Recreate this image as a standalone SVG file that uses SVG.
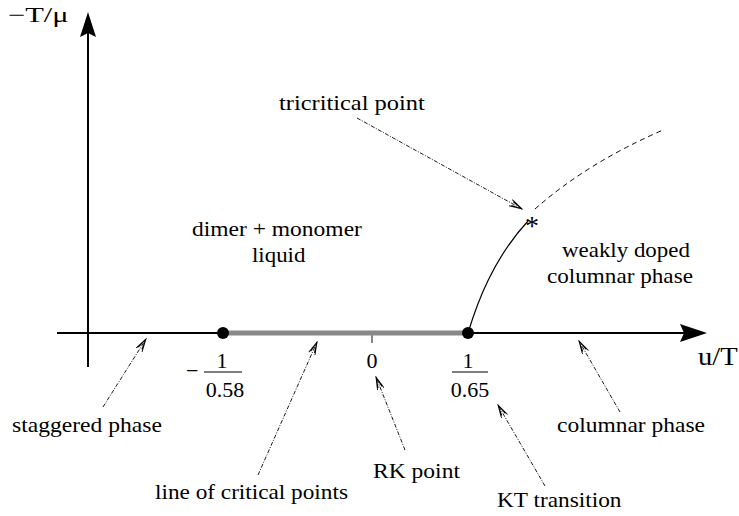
<svg xmlns="http://www.w3.org/2000/svg" width="739" height="516" viewBox="0 0 739 516">
<style>
.ax{stroke:#000;stroke-width:2;fill:none}
.ptr{stroke:#000;stroke-width:0.9;fill:none;stroke-dasharray:4 1.5 1 1.5;marker-end:url(#open)}
</style>
<defs>
<marker id="open" viewBox="0 0 14 8" refX="13" refY="4" markerWidth="14" markerHeight="8" markerUnits="userSpaceOnUse" orient="auto">
<path d="M0,0.5 L13,4 L0,7.5 M2,2 L13,4 L2,6" fill="none" stroke="#000" stroke-width="0.9"/>
</marker>
</defs>
<rect width="739" height="516" fill="#fff"/>
<g id="axes" font-family="Liberation Serif, serif">
<line class="ax" x1="88" y1="367" x2="88" y2="30"/>
<path d="M88,12 L96,37 L88,33 L80,37 Z" fill="#000"/>
<line class="ax" x1="57" y1="333" x2="690" y2="333"/>
<path d="M707,333 L680,342 L684,333 L680,324 Z" fill="#000"/>
<text font-size="21" transform="translate(8,22) scale(1.45,1)">−T/μ</text>
<text font-size="26" transform="translate(698,365) scale(1.1,1)">u/T</text>
</g>
<g id="critical-line">
<line x1="223" y1="333" x2="468" y2="333" stroke="#888" stroke-width="5"/>
<line x1="372" y1="333" x2="372" y2="343" stroke="#888" stroke-width="2"/>
</g>
<g id="point-left" font-family="Liberation Serif, serif" font-size="22">
<circle cx="223" cy="333" r="6" fill="#000"/>
<text x="186" y="378">−</text>
<text x="222" y="368" text-anchor="middle">1</text>
<line x1="204" y1="372" x2="242" y2="372" stroke="#000" stroke-width="1"/>
<text x="225" y="397" text-anchor="middle">0.58</text>
</g>
<g id="point-zero" font-family="Liberation Serif, serif" font-size="22">
<text x="372" y="368" text-anchor="middle">0</text>
</g>
<g id="point-right" font-family="Liberation Serif, serif" font-size="22">
<circle cx="468" cy="333" r="6" fill="#000"/>
<text x="468" y="368" text-anchor="middle">1</text>
<line x1="452" y1="372" x2="488" y2="372" stroke="#000" stroke-width="1"/>
<text x="470" y="397" text-anchor="middle">0.65</text>
</g>
<g id="boundary" font-family="Liberation Serif, serif">
<path d="M468,333 C478,300 494,258 528,221" fill="none" stroke="#000" stroke-width="1.2"/>
<path d="M535,209 Q587,163 663,130" fill="none" stroke="#000" stroke-width="1" stroke-dasharray="5 4"/>
<text x="532" y="235" font-size="28" text-anchor="middle">*</text>
</g>
<g id="labels" font-family="Liberation Serif, serif" font-size="21">
<text transform="translate(279,110) scale(1.164,1)">tricritical point</text>
<text transform="translate(192,236) scale(1.12,1)">dimer + monomer</text>
<text transform="translate(252,262) scale(1.09,1)">liquid</text>
<text transform="translate(562,257) scale(1.092,1)">weakly doped</text>
<text transform="translate(547,283) scale(1.103,1)">columnar phase</text>
<text transform="translate(12,432) scale(1.123,1)">staggered phase</text>
<text transform="translate(155,499) scale(1.107,1)">line of critical points</text>
<text transform="translate(373,478) scale(1.121,1)">RK point</text>
<text transform="translate(497,507) scale(1.11,1)">KT transition</text>
<text transform="translate(557,432) scale(1.118,1)">columnar phase</text>
</g>
<g id="connectors">
<line class="ptr" x1="357" y1="118" x2="522" y2="209"/>
<line class="ptr" x1="103" y1="407" x2="146" y2="339"/>
<line class="ptr" x1="258" y1="475" x2="317" y2="342"/>
<line class="ptr" x1="405" y1="450" x2="376" y2="377"/>
<line class="ptr" x1="545" y1="486" x2="498" y2="405"/>
<line class="ptr" x1="620" y1="412" x2="579" y2="341"/>
</g>
</svg>
